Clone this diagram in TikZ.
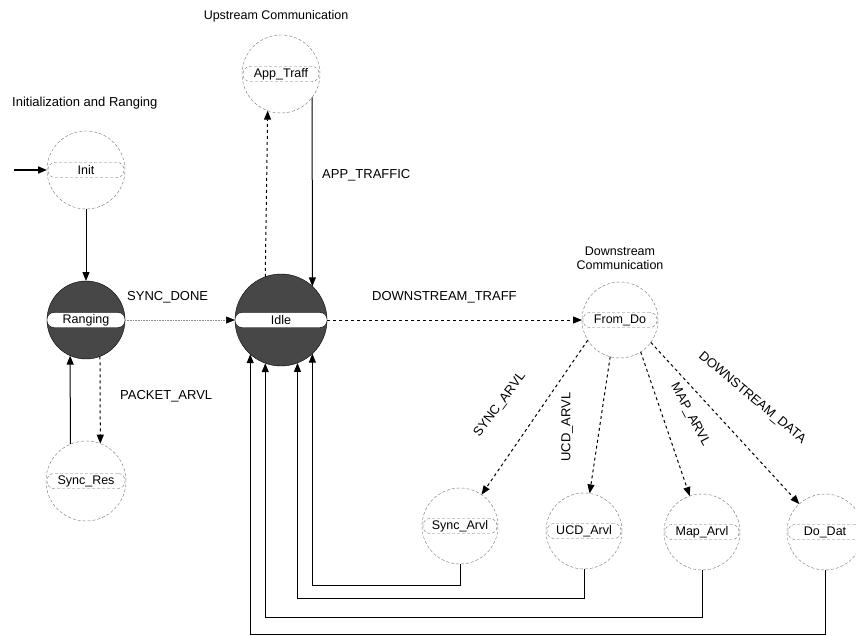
\documentclass[tikz,border=0pt]{standalone}
\usepackage{fontspec}
\setmainfont{Liberation Sans}
\usetikzlibrary{arrows.meta,calc}
\begin{document}
\begin{tikzpicture}[x=1pt,y=-1pt,
  st/.style={circle,draw=black!55,densely dashed,line width=0.4pt,inner sep=0pt,outer sep=0pt,minimum size=#1},
  st/.default=78pt,
  act/.style={st=#1,fill=black!72,draw=black,solid},
  bar/.style={rounded corners=7pt,draw=black!55,densely dashed,line width=0.4pt,fill=white,minimum height=15pt,minimum width=#1,inner sep=0pt,font=\fontsize{12.5}{13}\selectfont},
  abar/.style={bar=#1,solid,draw=black},
  tr/.style={-{Triangle[length=9pt,width=7pt]},line width=1pt},
  dtr/.style={tr,dashed},
  lab/.style={font=\fontsize{13}{14}\selectfont,inner sep=0pt},
  ttl/.style={font=\fontsize{12.5}{14}\selectfont,inner sep=0pt},
  ]
\useasboundingbox (0,0) rectangle (856,636);

% states
\node[st] (init) at (86,170) {};
\node[bar=76pt] (initl) at (init) {Init};
\node[act=78pt] (rang) at (86,320) {};
\node[abar=78pt] (rangl) at (rang) {Ranging};
\node[st=80pt] (sres) at (86,481) {};
\node[bar=78pt] (sresl) at (sres) {Sync\_Res};
\node[act=92pt] (idle) at (281,320) {};
\node[abar=92pt] (idlel) at (idle) {Idle};
\node[st] (app) at (281,74) {};
\node[bar=76pt] (appl) at (app) {App\_Traff};
\node[st=76pt] (from) at (620,320) {};
\node[bar=74pt] (froml) at (from) {From\_Do};
\node[st=76pt] (sarvl) at (460,526) {};
\node[bar=74pt] (sarvll) at (sarvl) {Sync\_Arvl};
\node[st=76pt] (ucd) at (584,531) {};
\node[bar=74pt] (ucdl) at (ucd) {UCD\_Arvl};
\node[st=76pt] (map) at (702,532) {};
\node[bar=74pt] (mapl) at (map) {Map\_Arvl};
\node[st=76pt] (dodat) at (825,532) {};
\node[bar=74pt] (dodatl) at (dodat) {Do\_Dat};

% titles
\node[ttl,anchor=west,font=\fontsize{13}{14}\selectfont] (t1) at (12,103) {Initialization and Ranging};
\node[ttl] (t2) at (276,16) {Upstream Communication};
\node[ttl,align=center] (t3) at (620,258) {Downstream\\Communication};

% connectors
\coordinate (istart) at (14,170);
\draw[tr,line width=1.8pt] (istart) -- (init);
\draw[tr] (init) -- (rang);
\draw[dtr] (rang.-69) -- (sres.69.5);
\draw[tr] (sres.113.6) -- (rang.-114.2);
\draw[densely dotted,black!45,-{Triangle[length=9pt,width=7pt,black]},line width=0.6pt] (rang) -- (idle);
\draw[dtr] (idle.110.4) -- (app.-110.2);
\draw[tr] (app.-37.4) -- (idle.47.6);
\draw[dtr] (idle) -- (from);
\draw[dtr] (from.-148) -- (sarvl);
\draw[dtr] (from.-105) -- (ucd);
\draw[dtr] (from.-57) -- (map);
\draw[dtr] (from.-36) -- (dodat);
\draw[tr] (sarvl.south) -- ++(0,21) -| (idle.-47.6);
\draw[tr] (ucd.south) -- ++(0,29) -| (idle.-69.6);
\draw[tr] (map.south) -- ++(0,47) -| (idle.-110.4);
\draw[tr] (dodat.south) -- ++(0,64) -| (idle.-132.4);

% labels
\node[lab,anchor=west] (lapp) at (322,175) {APP\_TRAFFIC};
\node[lab,anchor=west] (lsd) at (127,297) {SYNC\_DONE};
\node[lab,anchor=west] (ldt) at (372,297) {DOWNSTREAM\_TRAFF};
\node[lab,anchor=west] (lpa) at (120,396) {PACKET\_ARVL};
\node[lab,rotate=53] (lsync) at (500,405) {SYNC\_ARVL};
\node[lab,rotate=90] (lucd) at (567,427) {UCD\_ARVL};
\node[lab,rotate=-62] (lmap) at (690,415) {MAP\_ARVL};
\node[lab,rotate=-40] (ldd) at (752,398) {DOWNSTREAM\_DATA};
\end{tikzpicture}
\end{document}
